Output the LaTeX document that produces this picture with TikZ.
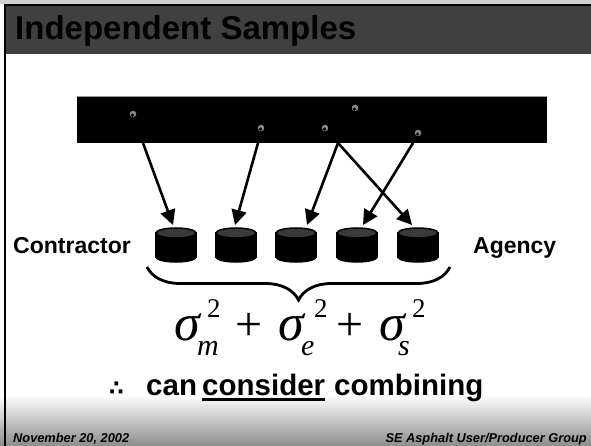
\documentclass[tikz,border=0pt]{standalone}
\usepackage{fontspec}
\setmainfont{Liberation Sans}
\newfontfamily\tms{Liberation Serif}
\newfontfamily\djv{DejaVu Sans}
\usetikzlibrary{arrows.meta,shapes.geometric,decorations.pathreplacing}
\definecolor{hdr}{HTML}{404040}
\definecolor{cyltop}{HTML}{3A3A3A}
\definecolor{dotgray}{HTML}{8A8A8A}
\newcommand{\myul}[1]{\setbox0\hbox{#1}\rlap{\rule[-6pt]{\wd0}{3pt}}\copy0\relax}
\tikzset{
  title/.style={font=\fontsize{33}{36}\selectfont\bfseries, inner sep=0, anchor=base west},
  label/.style={font=\fontsize{23}{26}\selectfont\bfseries, inner sep=0},
  foot/.style={font=\fontsize{12.8}{14}\selectfont\bfseries\itshape, inner sep=0},
  bar/.style={rectangle, fill=black, minimum width=470pt, minimum height=46pt, inner sep=0},
  gdot/.style={circle, fill=dotgray, minimum size=6.5pt, inner sep=0,
    path picture={\fill[black] ([shift={(-0.5pt,-1.1pt)}]path picture bounding box.center) circle (1.8pt);}},
  cylbox/.style={rectangle, minimum width=40pt, minimum height=34pt, inner sep=0, outer sep=0},
  arr/.style={line width=2.6pt, -{Triangle[length=15pt,width=15pt]}},
  sig/.style={font=\tms\itshape\fontsize{52}{54}\selectfont, inner sep=0, anchor=base west},
  pls/.style={font=\tms\fontsize{48}{50}\selectfont, inner sep=0, anchor=base west},
  supx/.style={font=\tms\fontsize{27}{29}\selectfont, inner sep=0, anchor=base west},
  subx/.style={font=\tms\itshape\fontsize{30}{32}\selectfont, inner sep=0, anchor=base west},
  body/.style={font=\fontsize{29.5}{33}\selectfont\bfseries, inner sep=0, anchor=base west},
}
\begin{document}
\begin{tikzpicture}[x=1pt,y=-1pt]
\useasboundingbox (0,0) rectangle (591,446);
% background
\fill[white] (0,0) rectangle (591,446);
\fill[black!18] (0,0) rectangle (591,4);
\shade[top color=white, bottom color=black!45] (0,395) rectangle (591,446);
\fill[hdr] (4,4) rectangle (591,54);
\draw[black, line width=2pt] (4,5) -- (591,5);
\draw[black, line width=2.4pt] (5.2,4) -- (5.2,446);
\node[title] (ttl) at (15,40) {Independent Samples};

% bar with dots
\node[bar] (bar) at (312,120) {};
\draw[black!40, line width=0.8pt] (bar.north west) -- (bar.north east);
\node[gdot] (d1) at (133,114) {};
\node[gdot] (d2) at (261,128) {};
\node[gdot] (d3) at (355,108) {};
\node[gdot] (d4) at (325,128) {};
\node[gdot] (d5) at (418,133) {};
\coordinate (s1) at (143,143);
\coordinate (s2) at (258,143);
\coordinate (s3) at (338,143);
\coordinate (s4) at (413,143);

% cylinders
\node[cylbox] (c1) at (176,245) {};
\node[cylbox] (c2) at (236,245) {};
\node[cylbox] (c3) at (296,245) {};
\node[cylbox] (c4) at (357,245) {};
\node[cylbox] (c5) at (418,245) {};
\foreach \c in {c1,c2,c3,c4,c5}{
  \filldraw[black, line width=1.5pt] ([yshift=-5pt]\c.north west) rectangle ([yshift=5pt]\c.south east);
  \filldraw[black, line width=1.5pt] ([yshift=5pt]\c.south) ellipse [x radius=20pt, y radius=5pt];
  \filldraw[fill=cyltop, draw=black, line width=1.5pt] ([yshift=-5pt]\c.north) ellipse [x radius=20pt, y radius=5pt];
}

% arrows
\draw[arr] (s1) -- ([xshift=-3pt,yshift=3pt]c1.north);
\draw[arr] (s2) -- ([xshift=-1pt,yshift=3pt]c2.north);
\draw[arr] (s3) -- ([xshift=11pt,yshift=3pt]c3.north);
\draw[arr] (s3) -- ([xshift=-6pt,yshift=3pt]c5.north);
\draw[arr] (s4) -- ([xshift=6pt,yshift=3pt]c4.north);

% labels
\node[label, anchor=base west] (con) at (13,253) {Contractor};
\node[label, anchor=base west] (agy) at (473,253) {Agency};

% brace
\coordinate (b1) at (147,267);
\coordinate (b2) at (450,267);
\draw[line width=2.8pt, decorate, decoration={brace, mirror, amplitude=33pt}] (b1) -- (b2);

% formula
\node[sig] (sm) at (174,340) {σ};
\node[supx] (pm) at (207,317) {2};
\node[subx] (bm) at (197,355) {m};
\node[pls] (p1) at (235.5,340) {+};
\node[sig] (se) at (278,340) {σ};
\node[supx] (pe) at (314,317) {2};
\node[subx] (be) at (301,355) {e};
\node[pls] (p2) at (336.5,340) {+};
\node[sig] (ss) at (379,340) {σ};
\node[supx] (ps) at (412,317) {2};
\node[subx] (bs) at (398,355) {s};

% conclusion
\node[body] (cc) at (109,395) {\makebox[37pt][l]{\djv\bfseries\fontsize{21}{22}\selectfont ∴}\makebox[56pt][l]{can}\myul{consider}\hspace{9pt}combining};

% footer
\node[foot, anchor=base west] (f1) at (13,442) {November 20, 2002};
\node[foot, anchor=base east] (f2) at (587,442) {SE Asphalt User/Producer Group};
\end{tikzpicture}
\end{document}
